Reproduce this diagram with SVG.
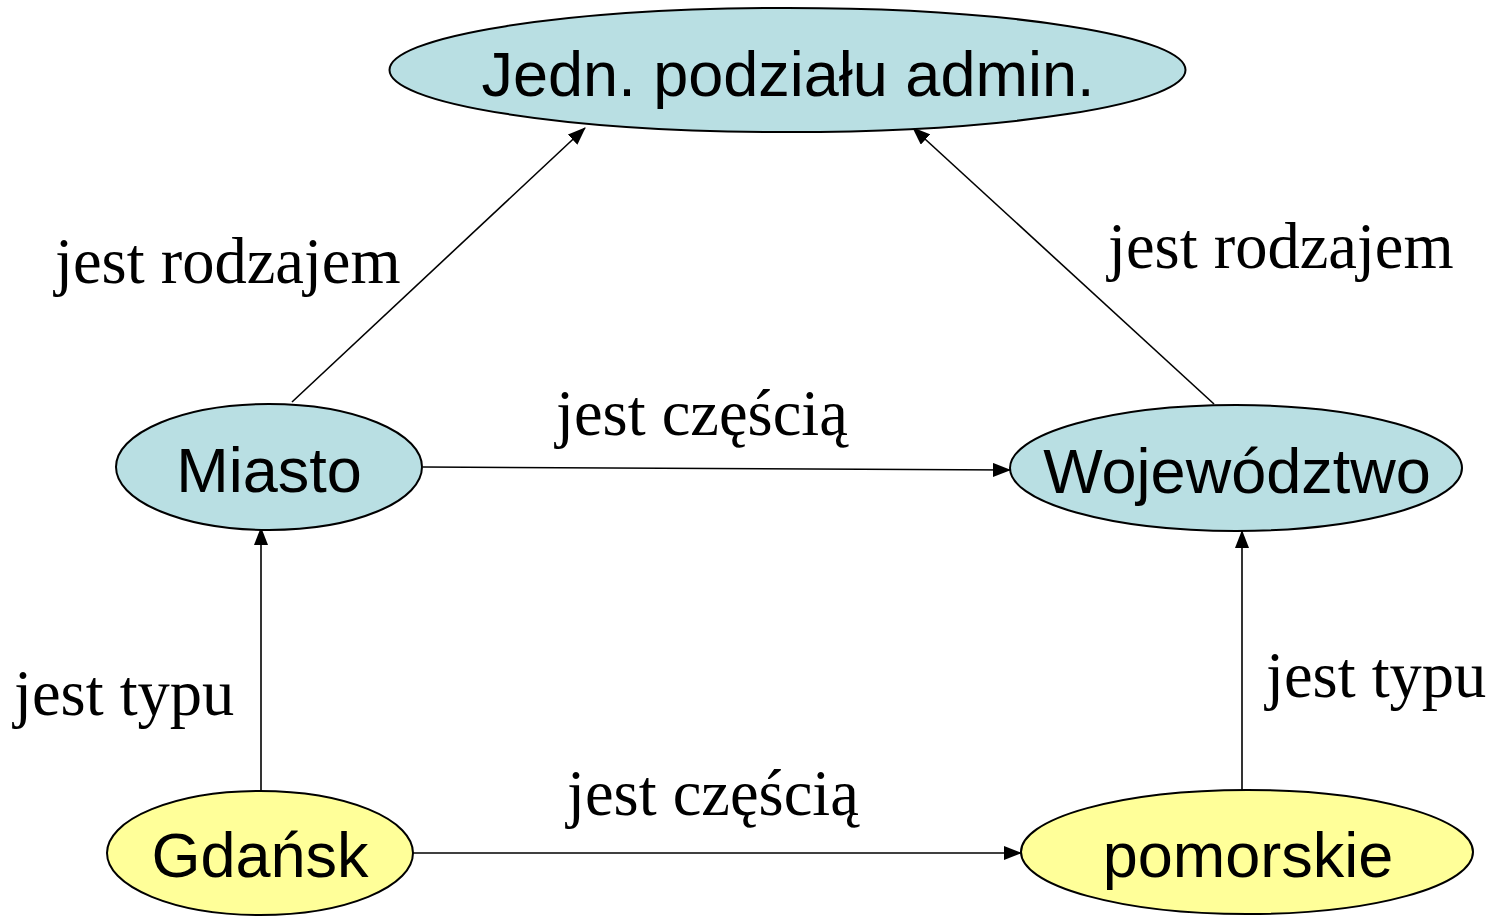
<svg xmlns="http://www.w3.org/2000/svg" width="1494" height="918" viewBox="0 0 1494 918">
<style>
.blue{fill:#b9dfe3;stroke:#000;stroke-width:2}
.yel{fill:#ffff99;stroke:#000;stroke-width:2}
.nt{font-family:"Liberation Sans",Arial,sans-serif;font-size:63px;fill:#000;text-anchor:middle}
.lt{font-family:"Liberation Serif","Times New Roman",serif;font-size:64.5px;fill:#000}
.ed{stroke:#000;stroke-width:1.6;fill:none;marker-end:url(#ah)}
</style>
<defs>
<marker id="ah" viewBox="0 0 18 14" refX="17" refY="7" markerWidth="18" markerHeight="14" markerUnits="userSpaceOnUse" orient="auto">
<path d="M0,0 L18,7 L0,14 z" fill="#000"/>
</marker>
</defs>
<rect width="1494" height="918" fill="#fff"/>
<g id="connectors">
<line class="ed" x1="292" y1="402" x2="585" y2="128"/>
<line class="ed" x1="1214" y1="404" x2="913" y2="128"/>
<line class="ed" x1="423" y1="467" x2="1010" y2="470"/>
<line class="ed" x1="261" y1="790" x2="261" y2="528"/>
<line class="ed" x1="1242" y1="790" x2="1242" y2="531"/>
<line class="ed" x1="413" y1="853" x2="1021" y2="853"/>
</g>
<g id="labels">
<text class="lt" x="55" y="283">jest rodzajem</text>
<text class="lt" x="1108" y="268">jest rodzajem</text>
<text class="lt" x="556" y="435">jest częścią</text>
<text class="lt" x="567" y="815">jest częścią</text>
<text class="lt" x="14" y="715">jest typu</text>
<text class="lt" x="1266" y="697">jest typu</text>
</g>
<g id="node-jedn">
<ellipse class="blue" cx="787.5" cy="70" rx="398" ry="62"/>
<text class="nt" x="788" y="96">Jedn. podziału admin.</text>
</g>
<g id="node-miasto">
<ellipse class="blue" cx="269" cy="467" rx="153" ry="63"/>
<text class="nt" x="269" y="492">Miasto</text>
</g>
<g id="node-wojewodztwo">
<ellipse class="blue" cx="1236" cy="468" rx="226" ry="63"/>
<text class="nt" x="1237" y="493">Województwo</text>
</g>
<g id="node-gdansk">
<ellipse class="yel" cx="260" cy="853" rx="153" ry="62"/>
<text class="nt" x="260" y="877">Gdańsk</text>
</g>
<g id="node-pomorskie">
<ellipse class="yel" cx="1247" cy="852" rx="226" ry="62"/>
<text class="nt" x="1248" y="877">pomorskie</text>
</g>
</svg>
